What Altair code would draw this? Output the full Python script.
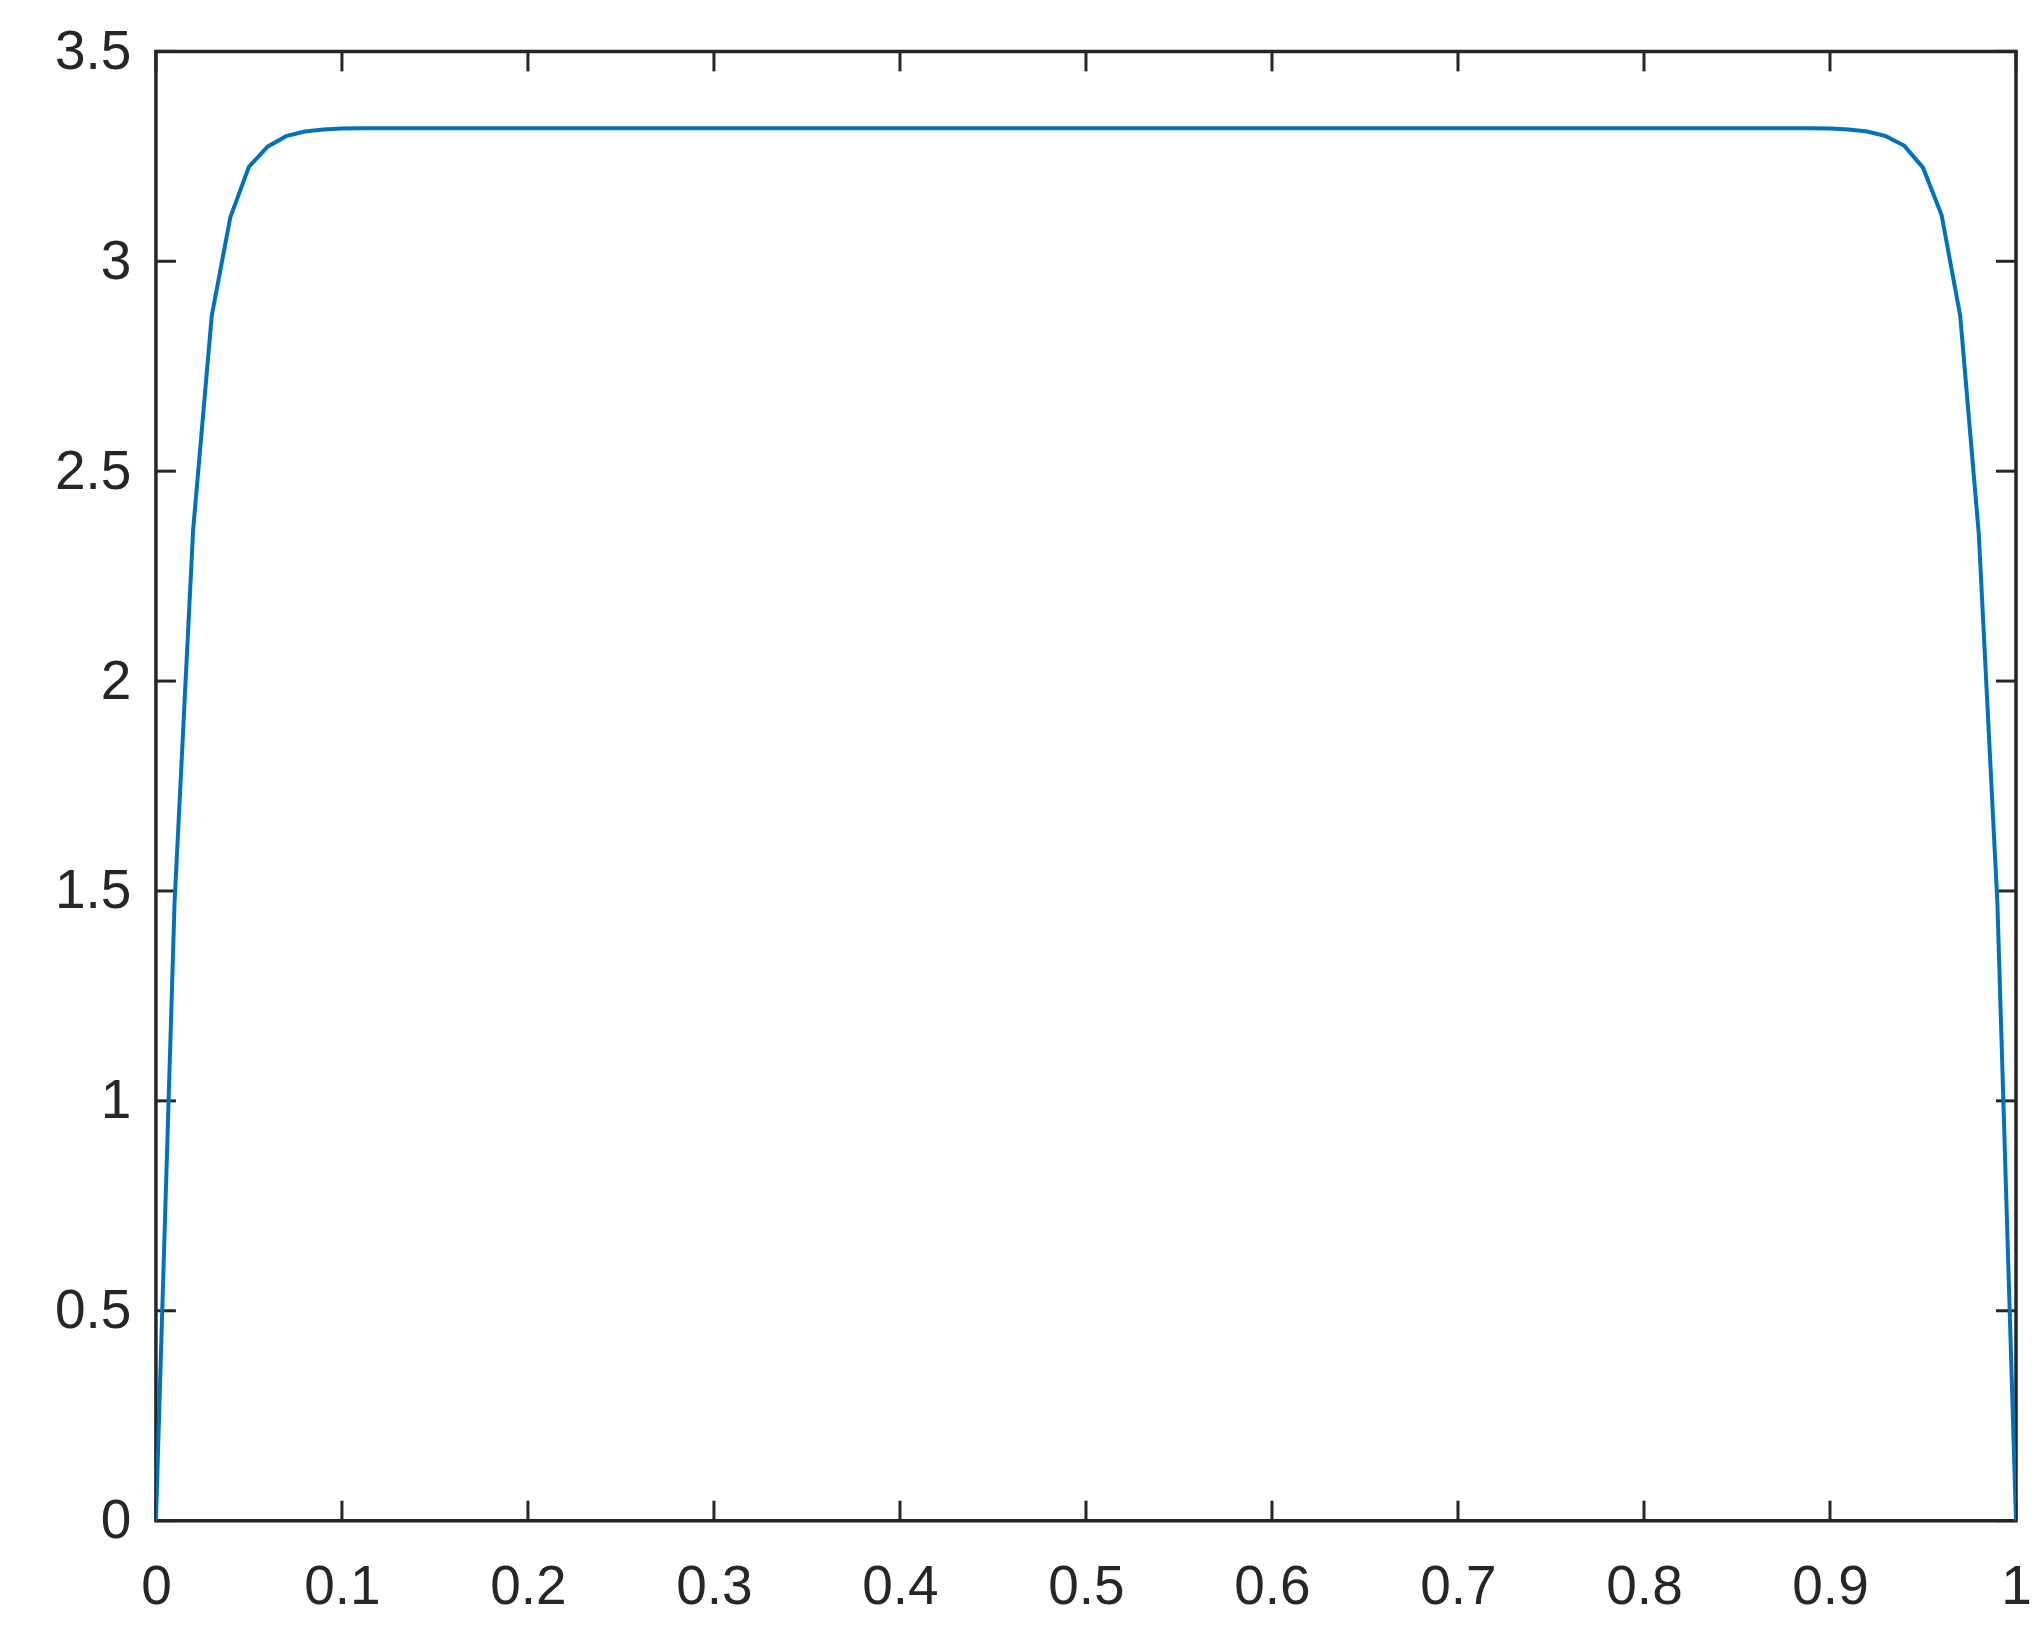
import altair as alt
import pandas as pd

x_vals = [0.00, 0.01, 0.02, 0.03, 0.04, 0.05, 0.06, 0.07, 0.08, 0.09,
          0.10, 0.11, 0.12, 0.13, 0.14, 0.15, 0.16, 0.17, 0.18, 0.19,
          0.20, 0.21, 0.22, 0.23, 0.24, 0.25, 0.26, 0.27, 0.28, 0.29,
          0.30, 0.31, 0.32, 0.33, 0.34, 0.35, 0.36, 0.37, 0.38, 0.39,
          0.40, 0.41, 0.42, 0.43, 0.44, 0.45, 0.46, 0.47, 0.48, 0.49,
          0.50, 0.51, 0.52, 0.53, 0.54, 0.55, 0.56, 0.57, 0.58, 0.59,
          0.60, 0.61, 0.62, 0.63, 0.64, 0.65, 0.66, 0.67, 0.68, 0.69,
          0.70, 0.71, 0.72, 0.73, 0.74, 0.75, 0.76, 0.77, 0.78, 0.79,
          0.80, 0.81, 0.82, 0.83, 0.84, 0.85, 0.86, 0.87, 0.88, 0.89,
          0.90, 0.91, 0.92, 0.93, 0.94, 0.95, 0.96, 0.97, 0.98, 0.99,
          1.00]

y_vals = [0.0, 1.47, 2.36, 2.87, 3.105, 3.225, 3.273, 3.298, 3.309, 3.314,
          3.316, 3.317, 3.317, 3.317, 3.317, 3.317, 3.317, 3.317, 3.317, 3.317,
          3.317, 3.317, 3.317, 3.317, 3.317, 3.317, 3.317, 3.317, 3.317, 3.317,
          3.317, 3.317, 3.317, 3.317, 3.317, 3.317, 3.317, 3.317, 3.317, 3.317,
          3.317, 3.317, 3.317, 3.317, 3.317, 3.317, 3.317, 3.317, 3.317, 3.317,
          3.317, 3.317, 3.317, 3.317, 3.317, 3.317, 3.317, 3.317, 3.317, 3.317,
          3.317, 3.317, 3.317, 3.317, 3.317, 3.317, 3.317, 3.317, 3.317, 3.317,
          3.317, 3.317, 3.317, 3.317, 3.317, 3.317, 3.317, 3.317, 3.317, 3.317,
          3.317, 3.317, 3.317, 3.317, 3.317, 3.317, 3.317, 3.317, 3.317, 3.317,
          3.316, 3.314, 3.309, 3.298, 3.275, 3.223, 3.11, 2.87, 2.35, 1.47,
          0.0]

x_ticks = [0, 0.1, 0.2, 0.3, 0.4, 0.5, 0.6, 0.7, 0.8, 0.9, 1]
y_ticks = [0, 0.5, 1, 1.5, 2, 2.5, 3, 3.5]

W = 1861
H = 1470
TICK = 20
AXC = "#262626"
FONT = "Liberation Sans"
FS = 55

df = pd.DataFrame({"x": x_vals, "y": y_vals})
dfx = pd.DataFrame({"t": x_ticks})
dfy = pd.DataFrame({"t": y_ticks})

xscale = alt.Scale(domain=[0, 1], nice=False, zero=False)
yscale = alt.Scale(domain=[0, 3.5], nice=False, zero=False)

line = alt.Chart(df).mark_line(color="#0072BD", strokeWidth=4, clip=True).encode(
    x=alt.X("x:Q", scale=xscale,
            axis=alt.Axis(values=x_ticks, format="~g", ticks=False, tickSize=0, domain=False,
                          grid=False, labelFontSize=FS, labelFont=FONT, labelColor=AXC,
                          labelPadding=40, title=None, labelFlush=False)),
    y=alt.Y("y:Q", scale=yscale,
            axis=alt.Axis(values=y_ticks, format="~g", ticks=False, tickSize=0, domain=False,
                          grid=False, labelFontSize=FS, labelFont=FONT, labelColor=AXC,
                          labelPadding=25, title=None, labelFlush=False)),
)

xt_bottom = alt.Chart(dfx).mark_rule(color=AXC, strokeWidth=3).encode(
    x=alt.X("t:Q", scale=xscale), y=alt.value(H), y2=alt.value(H - TICK))
xt_top = alt.Chart(dfx).mark_rule(color=AXC, strokeWidth=3).encode(
    x=alt.X("t:Q", scale=xscale), y=alt.value(0), y2=alt.value(TICK))
yt_left = alt.Chart(dfy).mark_rule(color=AXC, strokeWidth=3).encode(
    y=alt.Y("t:Q", scale=yscale), x=alt.value(0), x2=alt.value(TICK))
yt_right = alt.Chart(dfy).mark_rule(color=AXC, strokeWidth=3).encode(
    y=alt.Y("t:Q", scale=yscale), x=alt.value(W), x2=alt.value(W - TICK))

chart = alt.layer(xt_bottom, xt_top, yt_left, yt_right, line).properties(
    width=W, height=H,
    padding={"left": 148, "top": 43, "right": 20, "bottom": 100},
    autosize=alt.AutoSizeParams(type="none"),
    background="white",
).configure_view(stroke=AXC, strokeWidth=3.5)

chart.save("out.html", embed_options={"renderer": "svg", "actions": False})
